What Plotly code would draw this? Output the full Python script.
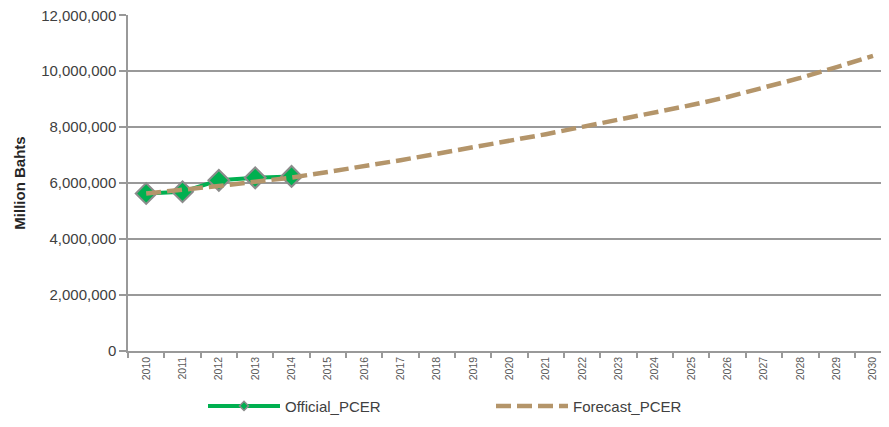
import plotly.graph_objects as go

YEARS = [str(y) for y in range(2010, 2031)]

OFFICIAL_YEARS = ["2010", "2011", "2012", "2013", "2014"]
OFFICIAL_PCER = [5630000, 5690000, 6100000, 6190000, 6240000]

FORECAST_PCER = [
    5630000, 5750000, 5900000, 6050000, 6200000, 6400000, 6600000,
    6820000, 7050000, 7280000, 7500000, 7750000, 8010000, 8260000,
    8520000, 8790000, 9080000, 9400000, 9760000, 10150000, 10550000,
]

Y_TICKS = [0, 2000000, 4000000, 6000000, 8000000, 10000000, 12000000]

FONT = "Liberation Sans, Arial, sans-serif"
GRID = "#999999"
TEXT = "#404040"
GREEN = "#00b050"
TAN = "#b4956a"

# the page body adds an 8px margin, so the figure is sized to fit inside it
W, H = 881, 419
ML, MT, MB = 120, 7, 76
PLOT_W = W - ML

fig = go.Figure()

fig.add_trace(go.Scatter(
    x=OFFICIAL_YEARS,
    y=OFFICIAL_PCER,
    name="Official_PCER",
    legendgroup="official",
    showlegend=False,
    mode="lines+markers",
    line=dict(color=GREEN, width=4),
    marker=dict(symbol="diamond", size=16, color=GREEN,
                line=dict(color="#8c8c8c", width=2)),
))

# legend entry only: small diamond like the original legend key
fig.add_trace(go.Scatter(
    x=[None],
    y=[None],
    name="Official_PCER",
    legendgroup="official",
    mode="lines+markers",
    line=dict(color=GREEN, width=4),
    marker=dict(symbol="diamond", size=7, color=GREEN,
                line=dict(color="#8c8c8c", width=1.5)),
))

fig.add_trace(go.Scatter(
    x=YEARS,
    y=FORECAST_PCER,
    name="Forecast_PCER",
    mode="lines",
    line=dict(color=TAN, width=4.5, dash="15px,6px"),
))

fig.update_layout(
    width=W,
    height=H,
    margin=dict(l=ML, r=0, t=MT, b=MB),
    paper_bgcolor="white",
    plot_bgcolor="white",
    font=dict(family=FONT, color=TEXT),
    showlegend=True,
    legend=dict(
        orientation="h",
        x=(195 - ML) / PLOT_W,
        xanchor="left",
        y=-0.115,
        yanchor="top",
        itemwidth=72,
        entrywidth=201,
        font=dict(size=15, color=TEXT, family=FONT),
        bgcolor="rgba(0,0,0,0)",
    ),
    xaxis=dict(
        type="category",
        categoryorder="array",
        categoryarray=YEARS,
        range=[-0.5, 20.44],
        automargin=False,
        tickangle=-90,
        tickfont=dict(size=10.5, color="#595959", family=FONT),
        showgrid=False,
        showline=True,
        linecolor=GRID,
        linewidth=1.5,
        ticks="outside",
        tickson="boundaries",
        ticklen=5,
        tickcolor=GRID,
        tickwidth=1.5,
        zeroline=False,
        fixedrange=True,
    ),
    yaxis=dict(
        range=[0, 12010000],
        automargin=False,
        tickvals=Y_TICKS,
        tickformat=",d",
        ticklabeloverflow="allow",
        tickfont=dict(size=15, color=TEXT, family=FONT),
        showgrid=True,
        gridcolor=GRID,
        gridwidth=1.5,
        showline=True,
        linecolor=GRID,
        linewidth=1.5,
        ticks="outside",
        ticklen=7,
        tickcolor=GRID,
        tickwidth=1.5,
        zeroline=False,
        title=dict(text="<b>Million Bahts</b>",
                   font=dict(size=15, color="#262626", family=FONT),
                   standoff=12),
        fixedrange=True,
    ),
)

fig.write_html("out.html")
